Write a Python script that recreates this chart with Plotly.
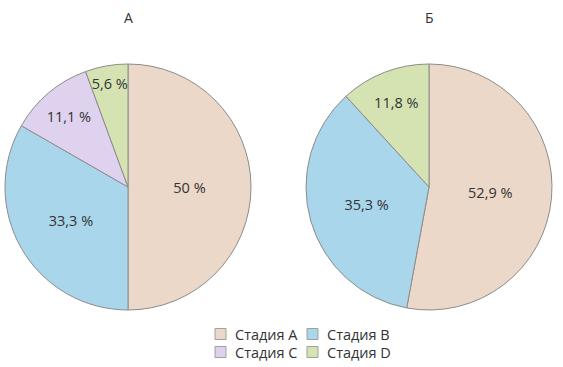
import plotly.graph_objects as go

W, H = 563, 367

# ---- data ----
stages = ["Стадия A", "Стадия B", "Стадия C", "Стадия D"]
stage_colors = ["#EBD8C8", "#A9D6EA", "#DFD2EE", "#D5E3B3"]

panel_titles = ["А", "Б"]

labels_a = ["Стадия A", "Стадия B", "Стадия C", "Стадия D"]
values_a = [50, 33.3, 11.1, 5.6]

labels_b = ["Стадия A", "Стадия B", "Стадия D"]
values_b = [52.9, 35.3, 11.8]


def fmt(v):
    return f"{v:g}".replace(".", ",") + " %"


color_of = dict(zip(stages, stage_colors))


def px_x(p):
    return p / W


def px_y(p):
    return (H - p) / H


FONT = "Open Sans"
TXT = "#333333"
LABEL_SIZE = 14.5

fig = go.Figure()

pies = [
    (labels_a, values_a, (128, 187)),
    (labels_b, values_b, (429, 187)),
]
R = 123
for labels, values, (cx, cy) in pies:
    fig.add_trace(go.Pie(
        labels=labels,
        values=values,
        text=[fmt(v) for v in values],
        textinfo="text",
        textposition="inside",
        insidetextorientation="horizontal",
        sort=False,
        direction="clockwise",
        rotation=0,
        marker=dict(colors=[color_of[l] for l in labels],
                    line=dict(color="#8C8C8C", width=1)),
        textfont=dict(family=FONT, size=LABEL_SIZE, color=TXT),
        hoverinfo="label+text",
        showlegend=False,
        domain=dict(x=[px_x(cx - R), px_x(cx + R)],
                    y=[px_y(cy + R), px_y(cy - R)]),
    ))

annotations = []
for title, cx in zip(panel_titles, [128, 429]):
    annotations.append(dict(
        text=title, x=px_x(cx), y=px_y(18), xref="paper", yref="paper",
        showarrow=False, xanchor="center", yanchor="middle",
        font=dict(family=FONT, size=14, color=TXT)))

# manual 2x2 legend
shapes = []
leg_cols = [215, 307]
leg_rows = [334, 352]
for i, (name, col) in enumerate(zip(stages, stage_colors)):
    r, c = divmod(i, 2)
    x0 = leg_cols[c]
    yc = leg_rows[r]
    shapes.append(dict(
        type="rect", xref="paper", yref="paper",
        x0=px_x(x0), x1=px_x(x0 + 11), y0=px_y(yc + 5.5), y1=px_y(yc - 5.5),
        fillcolor=col, line=dict(color="#A0A0A0", width=1)))
    annotations.append(dict(
        text=name, x=px_x(x0 + 18), y=px_y(yc), xref="paper", yref="paper",
        showarrow=False, xanchor="left", yanchor="middle",
        font=dict(family=FONT, size=14.5, color=TXT)))

fig.update_layout(
    width=W, height=H,
    margin=dict(l=0, r=0, t=0, b=0),
    paper_bgcolor="white",
    plot_bgcolor="white",
    uniformtext=dict(minsize=LABEL_SIZE, mode="show"),
    annotations=annotations,
    shapes=shapes,
    separators=", ",
)

fig.write_html(
    "out.html",
    config={"displayModeBar": False},
    post_script="document.body.style.margin='0';document.body.style.overflow='hidden';",
)
